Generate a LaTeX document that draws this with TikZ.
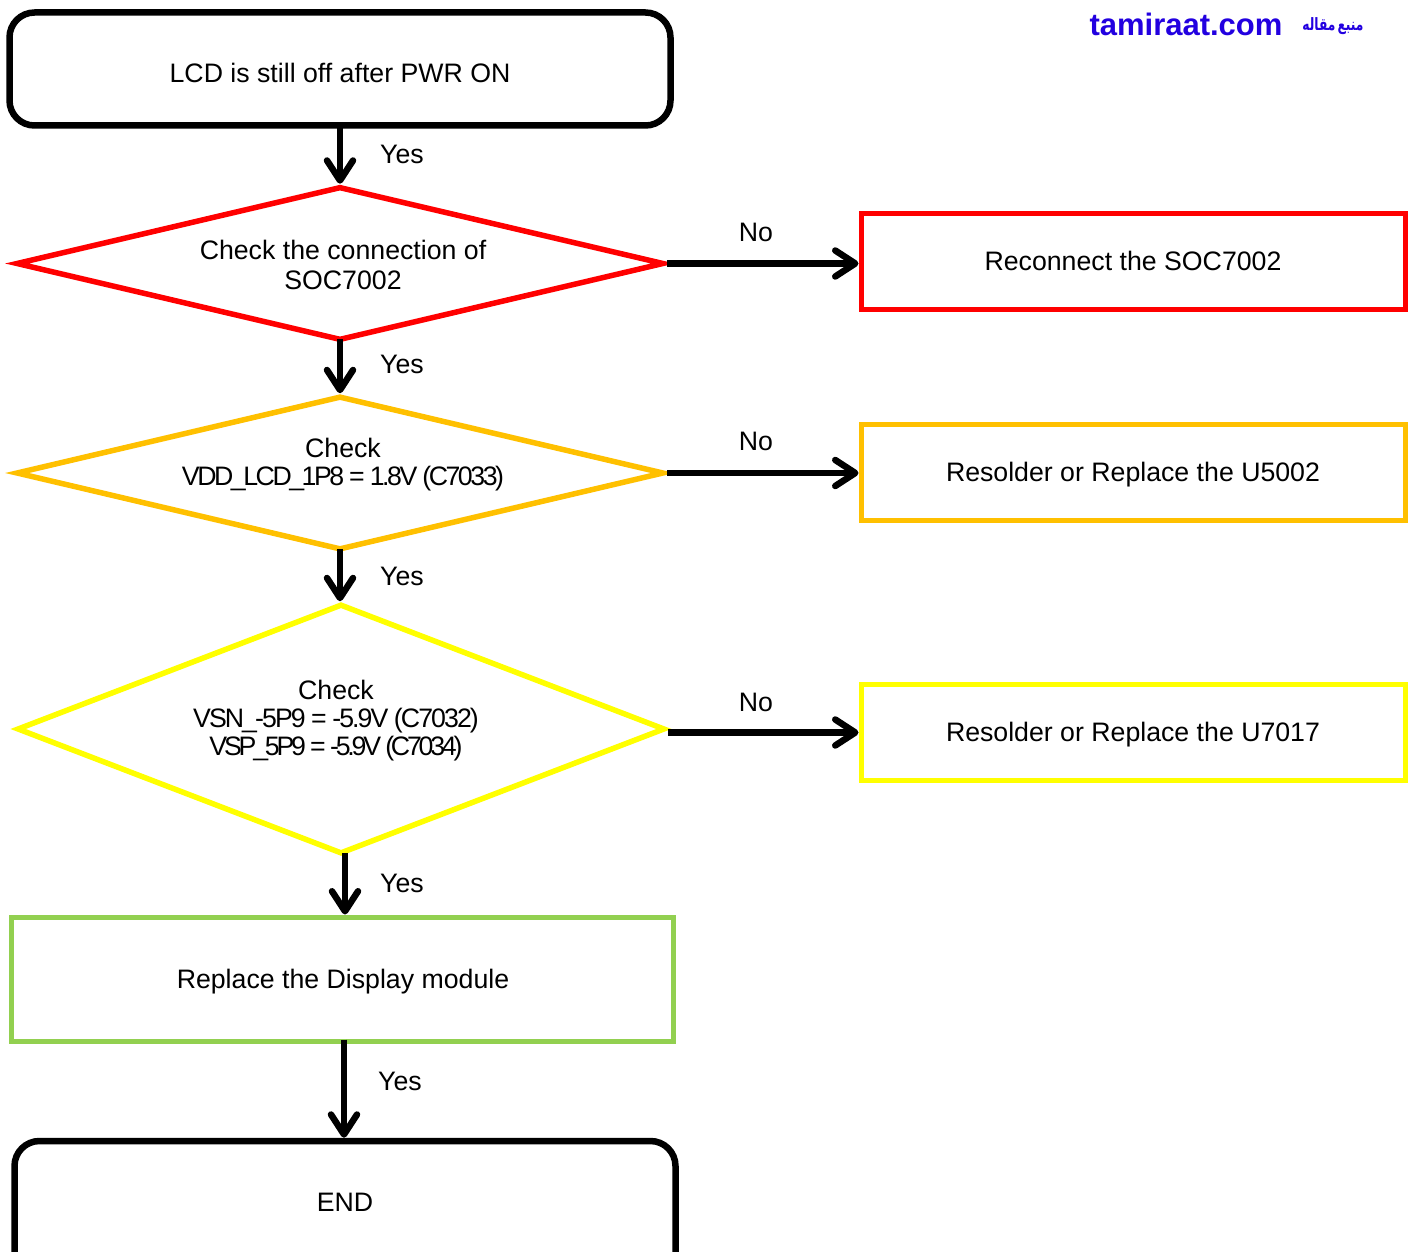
\documentclass[tikz,border=0pt]{standalone}
\usepackage{fontspec}
\setmainfont{Liberation Sans}
\newfontfamily\arabicfont[Script=Arabic]{DejaVu Sans}
\TeXXeTstate=1
\usetikzlibrary{arrows.meta,shapes.geometric}
\definecolor{cred}{HTML}{FF0000}
\definecolor{corange}{HTML}{FFC000}
\definecolor{cyellow}{HTML}{FFFF00}
\definecolor{cgreen}{HTML}{92D050}
\definecolor{cblue}{HTML}{2200E0}
\newcommand{\lsp}[2]{{\addfontfeature{LetterSpace=#1}#2}}
\tikzset{
  txt/.style={font=\fontsize{26.7}{30}\selectfont,align=center,text=black,inner sep=0pt},
  tight/.style={font=\fontsize{26.7}{28}\selectfont,align=center,text=black,inner sep=0pt},
  lbl/.style={txt},
  dia/.style={diamond,draw=#1,line width=5.5pt,inner sep=0pt,miter limit=10},
  rbox/.style={rectangle,draw=#1,line width=5pt,inner sep=0pt},
  term/.style={rectangle,rounded corners=25pt,draw=black,line width=6.5pt,inner sep=0pt},
  conn/.style={line width=6.5pt,draw=black,-{Straight Barb[length=20pt,width=26pt,line width=6.5pt,round]}},
  vconn/.style={conn,shorten <=-4pt},
}
\begin{document}
\begin{tikzpicture}[x=1pt,y=-1pt]
\useasboundingbox (0,0) rectangle (1411,1252);
\clip (0,0) rectangle (1411,1252);
% terminators
\node[term,minimum width=661pt,minimum height=113pt] (start) at (340,69) {};
\node[term,minimum width=661pt,minimum height=140pt] (endt) at (345,1211) {};
% decisions
\node[dia=cred,minimum width=648pt,minimum height=154pt] (d1) at (340,263.5) {};
\node[dia=corange,minimum width=648pt,minimum height=154pt] (d2) at (340,473) {};
\node[dia=cyellow,minimum width=648pt,minimum height=250pt] (d3) at (341,729) {};
% boxes
\node[rbox=cred,minimum width=544pt,minimum height=96pt] (b1) at (1133,261.5) {};
\node[rbox=corange,minimum width=544pt,minimum height=96pt] (b2) at (1133,472) {};
\node[rbox=cyellow,minimum width=544pt,minimum height=96pt] (b3) at (1133,732.5) {};
\node[rbox=cgreen,minimum width=662pt,minimum height=124pt] (g) at (342.5,979) {};
% texts
\node[txt] (tstart) at (340,73) {LCD is still off after PWR ON};
\node[txt] (t1) at (343,265) {Check the connection of\\SOC7002};
\node[tight] (t2) at (343,465) {Check\\\lsp{-9.2}{VDD\_LCD\_1P8 = 1.8V (C7033)}};
\node[tight] (t3) at (336,721) {Check\\\lsp{-7.2}{VSN\_-5P9 = -5.9V (C7032)}\\\lsp{-12}{VSP\_5P9 = -5.9V (C7034)}};
\node[txt] (tb1) at (1133,261) {Reconnect the SOC7002};
\node[txt] (tb2) at (1133,475) {Resolder or Replace the U5002};
\node[txt] (tb3) at (1133,735) {Resolder or Replace the U7017};
\node[txt] (tg) at (343,982) {Replace the Display module};
\node[txt] (tend) at (345,1202) {END};
% connectors
\draw[vconn] (start.south) -- (start.south |- d1.north);
\draw[vconn] (d1.south) -- (d2.north);
\draw[vconn] (d2.south) -- (d2.south |- d3.north);
\draw[vconn] ([xshift=4pt]d3.south) -- ([xshift=4pt]d3.south |- g.north);
\draw[vconn] ([xshift=1.5pt]g.south) -- ([xshift=1.5pt]g.south |- endt.north);
\draw[conn] (d1.east) -- (d1.east -| b1.west);
\draw[conn] (d2.east) -- (d2.east -| b2.west);
\draw[conn] (b3.west -| d3.east) -- (b3.west);
% labels
\node[lbl] (y1) at (402,154) {Yes};
\node[lbl] (y2) at (402,364) {Yes};
\node[lbl] (y3) at (402,576) {Yes};
\node[lbl] (y4) at (402,883) {Yes};
\node[lbl] (y5) at (400,1081) {Yes};
\node[lbl] (n1) at (756,232) {No};
\node[lbl] (n2) at (756,441) {No};
\node[lbl] (n3) at (756,702) {No};
% logo
\node[inner sep=0pt,text=cblue,font=\fontsize{31}{34}\selectfont\bfseries] (logo) at (1186,24) {tamiraat.com};
\node[inner sep=0pt,text=cblue,font=\fontsize{17}{20}\arabicfont\bfseries,xscale=.72,transform shape] (logo2) at (1333,26) {\beginR منبع\hspace{3pt}مقاله\endR};
\end{tikzpicture}
\end{document}
